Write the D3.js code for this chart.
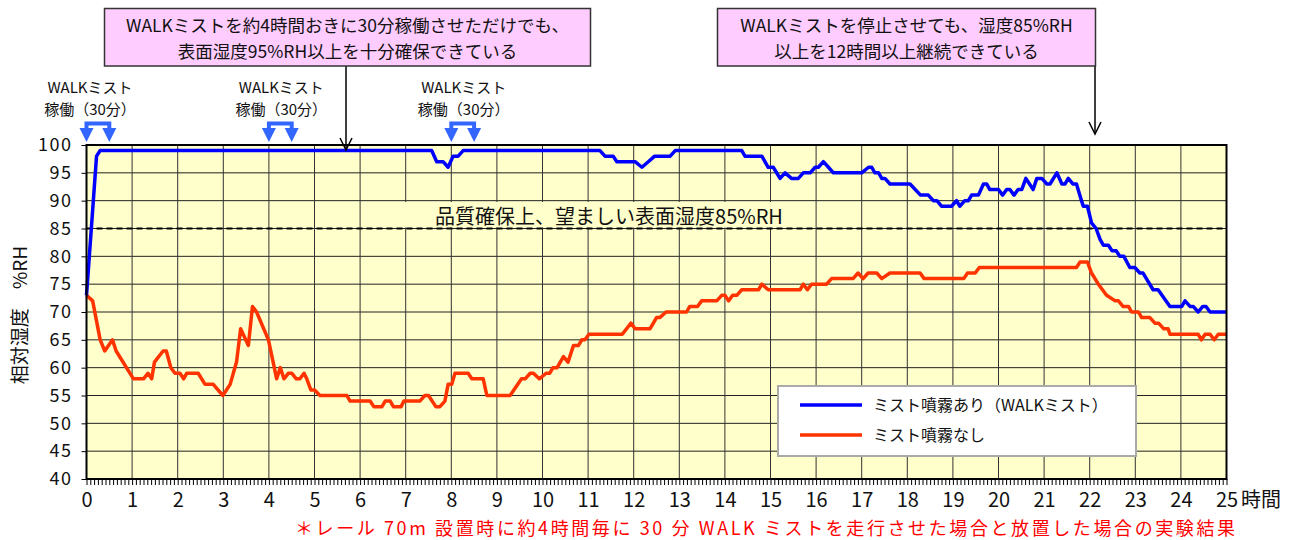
<!DOCTYPE html>
<html>
<head>
<meta charset="utf-8">
<script src="https://cdn.jsdelivr.net/npm/d3@7"></script>
<style>
body { margin: 0; background: #fff; }
svg text { font-family: "Noto Sans CJK JP", "Noto Sans", sans-serif; fill: #111; }
</style>
</head>
<body>
<div id="chart"></div>
<script>
// hours after start / relative humidity (%RH)
var blueHours = [0, 0.15, 0.22, 0.3, 7.57, 7.68, 7.82, 7.93, 8.04, 8.15,
    8.26, 11.26, 11.37, 11.55, 11.63, 12.03, 12.18, 12.32, 12.46, 12.8,
    12.91, 14.37, 14.44, 14.81, 14.95, 15.06, 15.21, 15.32, 15.46, 15.61,
    15.72, 15.87, 15.98, 16.05, 16.16, 16.27, 16.38, 17.0, 17.15, 17.22,
    17.29, 17.37, 17.44, 17.51, 17.62, 18.06, 18.29, 18.46, 18.57, 18.65,
    18.75, 18.97, 19.08, 19.15, 19.26, 19.34, 19.41, 19.56, 19.67, 19.74,
    19.81, 20.0, 20.09, 20.18, 20.25, 20.34, 20.43, 20.51, 20.6, 20.76,
    20.84, 20.95, 21.06, 21.13, 21.28, 21.39, 21.46, 21.53, 21.63, 21.71,
    21.82, 21.86, 21.95, 22.04, 22.14, 22.23, 22.3, 22.41, 22.49, 22.58,
    22.66, 22.75, 22.88, 22.99, 23.1, 23.17, 23.39, 23.5, 23.76, 24.02,
    24.09, 24.2, 24.27, 24.38, 24.48, 24.55, 24.64, 25.0];
var blueRH = [73, 90, 98, 99, 99, 97, 97, 96, 98, 98,
    99, 99, 98, 98, 97, 97, 96, 97, 98, 98,
    99, 99, 98, 98, 96, 96, 94, 95, 94, 94,
    95, 95, 96, 96, 97, 96, 95, 95, 96, 96,
    95, 95, 94, 94, 93, 93, 91, 91, 90, 90,
    89, 89, 90, 89, 90, 90, 91, 91, 93, 93,
    92, 92, 91, 92, 92, 91, 92, 92, 94, 92,
    94, 94, 93, 93, 95, 93, 93, 94, 93, 93,
    90, 89, 89, 86, 85, 83, 82, 82, 81, 81,
    80, 80, 78, 78, 77, 77, 74, 74, 71, 71,
    72, 71, 71, 70, 71, 71, 70, 70];

var redHours = [0, 0.135, 0.3, 0.4, 0.57, 0.65, 1.03, 1.25, 1.35, 1.43,
    1.49, 1.68, 1.75, 1.85, 1.94, 2.05, 2.13, 2.2, 2.45, 2.6,
    2.78, 2.99, 3.15, 3.29, 3.38, 3.55, 3.64, 3.73, 3.99, 4.17,
    4.25, 4.33, 4.43, 4.5, 4.6, 4.68, 4.77, 4.83, 4.92, 5.0,
    5.12, 5.71, 5.78, 6.22, 6.3, 6.48, 6.55, 6.66, 6.73, 6.9,
    6.96, 7.31, 7.42, 7.5, 7.66, 7.75, 7.86, 7.93, 8.01, 8.08,
    8.37, 8.45, 8.7, 8.78, 9.29, 9.54, 9.62, 9.73, 9.8, 9.93,
    10.08, 10.16, 10.23, 10.32, 10.46, 10.56, 10.68, 10.79, 10.86, 10.93,
    11.02, 11.75, 11.94, 12.03, 12.36, 12.5, 12.57, 12.71, 13.16, 13.23,
    13.4, 13.49, 13.82, 13.93, 14.0, 14.08, 14.17, 14.26, 14.37, 14.74,
    14.81, 14.95, 15.65, 15.72, 15.81, 15.9, 16.23, 16.34, 16.81, 16.92,
    17.03, 17.14, 17.33, 17.44, 17.62, 18.28, 18.37, 19.24, 19.32, 19.49,
    19.58, 21.71, 21.79, 21.95, 22.04, 22.19, 22.37, 22.56, 22.63, 22.73,
    22.85, 22.92, 23.07, 23.14, 23.32, 23.43, 23.51, 23.62, 23.72, 23.76,
    24.38, 24.45, 24.53, 24.64, 24.73, 24.82, 25.0];
var redRH = [73, 72, 65, 63, 65, 63, 58, 58, 59, 58,
    61, 63, 63, 60, 59, 59, 58, 59, 59, 57,
    57, 55, 57, 61, 67, 64, 71, 70, 65, 58,
    60, 58, 59, 59, 58, 58, 59, 58, 56, 56,
    55, 55, 54, 54, 53, 53, 54, 54, 53, 53,
    54, 54, 55, 55, 53, 53, 54, 57, 57, 59,
    59, 58, 58, 55, 55, 58, 58, 59, 59, 58,
    59, 59, 60, 60, 62, 61, 64, 64, 65, 65,
    66, 66, 68, 67, 67, 69, 69, 70, 70, 71,
    71, 72, 72, 73, 73, 72, 73, 73, 74, 74,
    75, 74, 74, 75, 74, 75, 75, 76, 76, 77,
    76, 77, 77, 76, 77, 77, 76, 76, 77, 77,
    78, 78, 79, 79, 77, 75, 73, 72, 72, 71,
    71, 70, 70, 69, 69, 68, 68, 67, 67, 66,
    66, 65, 66, 66, 65, 66, 66];

var yTicks = [40, 45, 50, 55, 60, 65, 70, 75, 80, 85, 90, 95, 100];
var xTicks = d3.range(0, 26);
var mistStarts = [0, 4, 8];   // WALK mist runs for 30 min from these hours
var threshold = 85;
var seriesNames = ["ミスト噴霧あり（WALKミスト）", "ミスト噴霧なし"];
var colors = ["#0000ff", "#ff3300"];

var width = 1299, height = 540;

var x = d3.scaleLinear().domain([0, 25]).range([86.5, 1226.5]);
var y = d3.scaleLinear().domain([40, 100]).range([479, 145]);

var svg = d3.select("#chart").append("svg")
    .attr("width", width)
    .attr("height", height);

// plot background
svg.append("rect")
    .attr("x", x(0)).attr("y", y(100))
    .attr("width", x(25) - x(0)).attr("height", y(40) - y(100))
    .attr("fill", "#ffffcc");

// grid
svg.append("g").selectAll("line")
    .data(yTicks.slice(1, -1))
    .enter().append("line")
    .attr("x1", x(0)).attr("x2", x(25))
    .attr("y1", function(d) { return y(d); })
    .attr("y2", function(d) { return y(d); })
    .attr("stroke", "#222").attr("stroke-width", 1);

svg.append("g").selectAll("line")
    .data(xTicks.slice(1, -1))
    .enter().append("line")
    .attr("x1", function(d) { return x(d); })
    .attr("x2", function(d) { return x(d); })
    .attr("y1", y(100)).attr("y2", y(40))
    .attr("stroke", "#333").attr("stroke-width", 1);

// threshold label (sits on a patch of background colour)
svg.append("rect")
    .attr("x", 398).attr("y", 202)
    .attr("width", 402).attr("height", y(threshold) - 203)
    .attr("fill", "#ffffcc");
svg.append("text")
    .attr("x", 609).attr("y", 224)
    .attr("text-anchor", "middle")
    .attr("font-size", 20)
    .text("品質確保上、望ましい表面湿度85%RH");

svg.append("line")
    .attr("x1", x(0)).attr("x2", x(25))
    .attr("y1", y(threshold)).attr("y2", y(threshold))
    .attr("stroke", "#000").attr("stroke-width", 2)
    .attr("stroke-dasharray", "6,4");

// series
var line = d3.line()
    .x(function(d) { return x(d[0]); })
    .y(function(d) { return y(d[1]); });

svg.append("path")
    .datum(d3.zip(redHours, redRH))
    .attr("d", line)
    .attr("fill", "none")
    .attr("stroke", colors[1])
    .attr("stroke-width", 3.5)
    .attr("stroke-linejoin", "round");

svg.append("path")
    .datum(d3.zip(blueHours, blueRH))
    .attr("d", line)
    .attr("fill", "none")
    .attr("stroke", colors[0])
    .attr("stroke-width", 3.5)
    .attr("stroke-linejoin", "round");

// frame
svg.append("rect")
    .attr("x", x(0)).attr("y", y(100))
    .attr("width", x(25) - x(0)).attr("height", y(40) - y(100))
    .attr("fill", "none").attr("stroke", "#000").attr("stroke-width", 2);

// axes
var yAxis = svg.append("g")
    .attr("transform", "translate(" + x(0) + ",0)")
    .call(d3.axisLeft(y).tickValues(yTicks).tickSize(5).tickPadding(9));
yAxis.select(".domain").remove();
yAxis.selectAll("line").attr("stroke", "#000");
yAxis.selectAll("text")
    .attr("font-family", "DejaVu Sans")
    .attr("font-size", 18)
    .attr("letter-spacing", 1.5)
    .style("fill", "#111");

var xMinor = svg.append("g")
    .attr("transform", "translate(0," + y(40) + ")")
    .call(d3.axisBottom(x).tickValues(d3.range(0, 301).map(function(i) { return i / 12; }))
        .tickSize(6).tickFormat(""));
xMinor.select(".domain").remove();
xMinor.selectAll("line").attr("stroke", "#000");

var xAxis = svg.append("g")
    .attr("transform", "translate(0," + y(40) + ")")
    .call(d3.axisBottom(x).tickValues(xTicks).tickSize(0).tickPadding(14));
xAxis.select(".domain").remove();
xAxis.selectAll("text")
    .attr("font-family", "DejaVu Sans")
    .attr("font-size", 20)
    .style("fill", "#111");

svg.append("text")
    .attr("x", 1241).attr("y", 507)
    .attr("font-size", 20)
    .text("時間");

svg.append("text")
    .attr("transform", "translate(27,315) rotate(-90)")
    .attr("text-anchor", "middle")
    .attr("font-size", 19)
    .text("相対湿度　%RH");

// mist run markers
var markColor = "#3366ff";
mistStarts.forEach(function(h) {
    var x1 = x(h), x2 = x(h + 0.5);
    var g = svg.append("g");
    g.append("path")
        .attr("d", "M" + x1 + ",130V123.5H" + x2 + "V130")
        .attr("fill", "none").attr("stroke", markColor).attr("stroke-width", 4);
    [x1, x2].forEach(function(cx) {
        g.append("path")
            .attr("d", "M" + (cx - 7) + ",128L" + (cx + 7) + ",128L" + cx + ",142Z")
            .attr("fill", markColor);
    });
    var cx = h === 0 ? 90 : (x1 + x2) / 2 + 1;
    g.append("text").attr("x", cx).attr("y", 93)
        .attr("text-anchor", "middle").attr("font-size", 15)
        .text("WALKミスト");
    g.append("text").attr("x", cx).attr("y", 115)
        .attr("text-anchor", "middle").attr("font-size", 15)
        .text("稼働（30分）");
});

// callouts
function callout(bx, bw, lines, ax, tipY) {
    svg.append("line")
        .attr("x1", ax).attr("x2", ax).attr("y1", 66).attr("y2", tipY)
        .attr("stroke", "#000").attr("stroke-width", 1.5);
    svg.append("path")
        .attr("d", "M" + (ax - 6) + "," + (tipY - 12) + "L" + ax + "," + tipY + "L" + (ax + 6) + "," + (tipY - 12))
        .attr("fill", "none").attr("stroke", "#000").attr("stroke-width", 1.5);
    svg.append("rect")
        .attr("x", bx).attr("y", 8.5).attr("width", bw).attr("height", 57.5)
        .attr("fill", "#ffccff").attr("stroke", "#333").attr("stroke-width", 1.5);
    lines.forEach(function(t, i) {
        svg.append("text")
            .attr("x", bx + bw / 2).attr("y", 32 + i * 26)
            .attr("text-anchor", "middle").attr("font-size", 17.5)
            .text(t);
    });
}
callout(104.5, 486, ["WALKミストを約4時間おきに30分稼働させただけでも、", "表面湿度95%RH以上を十分確保できている"], 346, 150);
callout(717.5, 378, ["WALKミストを停止させても、湿度85%RH", "以上を12時間以上継続できている"], 1095, 134);

// legend
var legend = svg.append("g");
legend.append("rect")
    .attr("x", 778).attr("y", 386).attr("width", 358).attr("height", 70)
    .attr("fill", "#fff").attr("stroke", "#aaa").attr("stroke-width", 2);
seriesNames.forEach(function(name, i) {
    var ly = 405 + i * 30;
    legend.append("line")
        .attr("x1", 800).attr("x2", 862).attr("y1", ly).attr("y2", ly)
        .attr("stroke", colors[i]).attr("stroke-width", 3.5);
    legend.append("text")
        .attr("x", 873).attr("y", ly + 6)
        .attr("font-size", 16)
        .text(name);
});

// footnote
svg.append("text")
    .attr("x", 765).attr("y", 535)
    .attr("text-anchor", "middle")
    .attr("font-size", 18)
    .attr("textLength", 940)
    .attr("lengthAdjust", "spacing")
    .style("fill", "#ff0000")
    .text("＊レール 70m 設置時に約4時間毎に 30 分 WALK ミストを走行させた場合と放置した場合の実験結果");
</script>
</body>
</html>
